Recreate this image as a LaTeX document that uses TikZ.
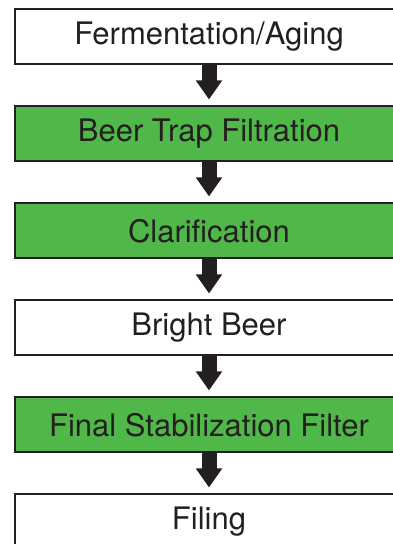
\documentclass[tikz,border=0pt]{standalone}
\usepackage{fontspec}
\setmainfont{TeX Gyre Heros}
\usetikzlibrary{arrows.meta}
\definecolor{stepgreen}{HTML}{50B848}
\definecolor{inkgray}{HTML}{231F20}
\begin{document}
\begin{tikzpicture}[x=1pt,y=1pt,
    stage/.style={rectangle, draw=inkgray, line width=2pt, minimum width=388pt, minimum height=55pt, inner sep=0pt, text=inkgray, font=\fontsize{31}{36}\selectfont},
    flow/.style={draw=inkgray, line width=15pt, -{Triangle[width=25pt,length=19pt]}, shorten >=6pt}]
        \useasboundingbox (0, 0) rectangle (392, 544);

        \node[stage, fill=white] (ferment) at (209, 507) {Fermentation/Aging};
        \node[stage, fill=stepgreen] (trap) at (209, 410) {Beer Trap Filtration};
        \node[stage, fill=stepgreen] (clarif) at (209, 313) {Clarification};
        \node[stage, fill=white] (bright) at (209, 216) {Bright Beer};
        \node[stage, fill=stepgreen] (final) at (209, 119) {Final Stabilization Filter};
        \node[stage, fill=white] (filing) at (209, 22) {Filing};

        \draw[flow] (ferment.south) -- (trap.north);
        \draw[flow] (trap.south) -- (clarif.north);
        \draw[flow] (clarif.south) -- (bright.north);
        \draw[flow] (bright.south) -- (final.north);
        \draw[flow] (final.south) -- (filing.north);

    \end{tikzpicture}
\end{document}
